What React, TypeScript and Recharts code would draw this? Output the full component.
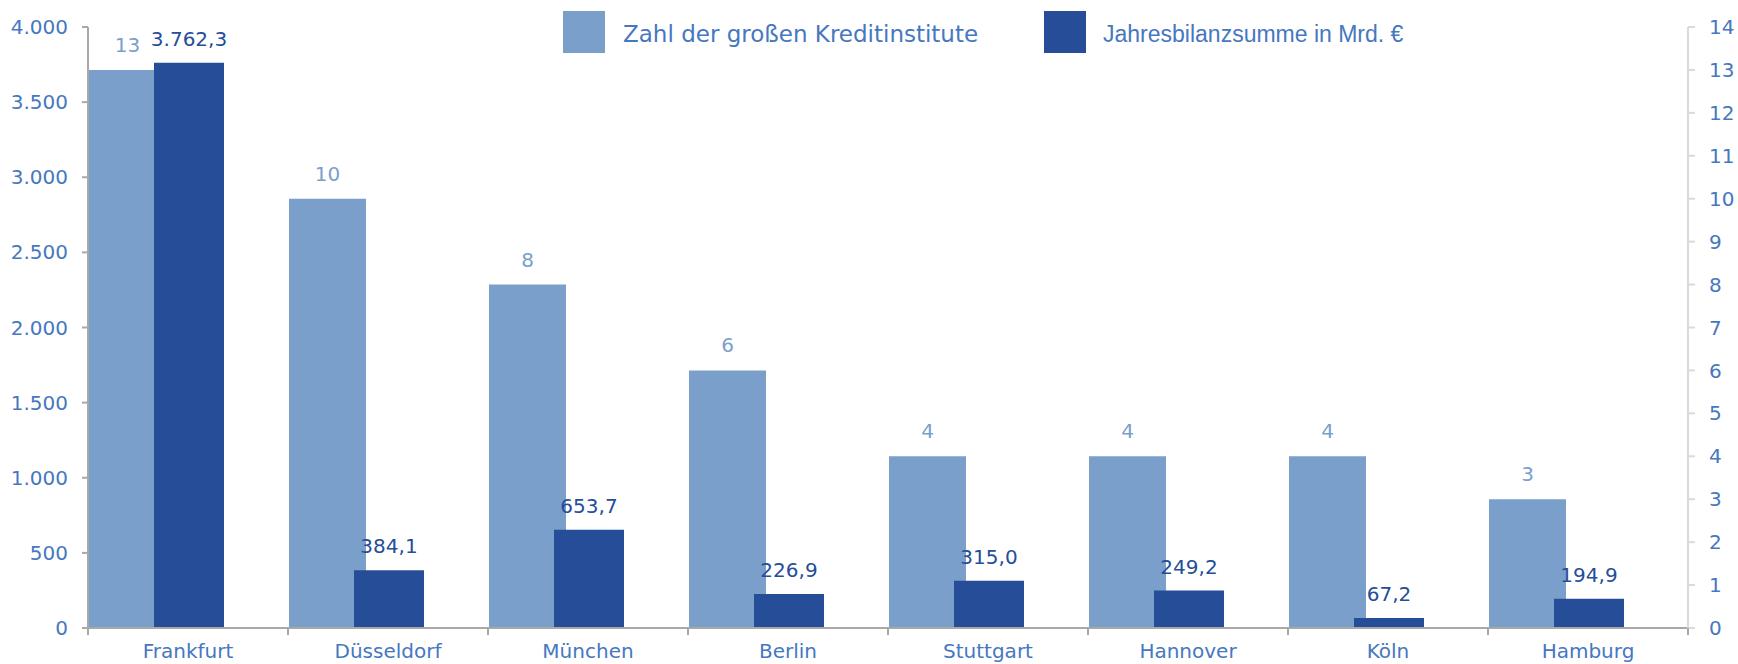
import React from 'react';
import { BarChart, Bar, XAxis, YAxis, LabelList } from 'recharts';

const cities = ['Frankfurt', 'Düsseldorf', 'München', 'Berlin', 'Stuttgart', 'Hannover', 'Köln', 'Hamburg'];
const institutes = [13, 10, 8, 6, 4, 4, 4, 3];
const totals = [3762.3, 384.1, 653.7, 226.9, 315.0, 249.2, 67.2, 194.9];
const leftTicks = [0, 500, 1000, 1500, 2000, 2500, 3000, 3500, 4000];
const rightTicks = [0, 1, 2, 3, 4, 5, 6, 7, 8, 9, 10, 11, 12, 13, 14];

const W = 1738;
const H = 664;
const TOP = 27;
const LEFT_W = 88;
const RIGHT_W = 50;
const XAXIS_H = 36;
const AXIS_Y = H - XAXIS_H;
const BAND = (W - LEFT_W - RIGHT_W) / cities.length;

const LIGHT = '#7a9fcb';
const DARK = '#254d98';
const TEXT = '#4677c0';
const GREY = '#a8a8a8';
const LIGHT_GREY = '#dadada';
const FONT = '"DejaVu Sans", sans-serif';

const data = cities.map((city, i) => ({ city, institutes: institutes[i], total: totals[i] }));

const thousands = (s: string) => s.replace(/\B(?=(\d{3})+(?!\d))/g, '.');
const fmtInt = (v: number) => thousands(Math.round(v).toString());
const fmtDec = (v: number) => {
  const [a, b] = Number(v).toFixed(1).split('.');
  return thousands(a) + ',' + b;
};

const CityTick = (props: any) => {
  const { x, payload, index } = props;
  const last = index === cities.length - 1;
  return (
    <g>
      <line x1={x - BAND / 2} x2={x - BAND / 2} y1={AXIS_Y} y2={AXIS_Y + 7} stroke={GREY} strokeWidth={2} />
      {last && <line x1={x + BAND / 2} x2={x + BAND / 2} y1={AXIS_Y} y2={AXIS_Y + 7} stroke={GREY} strokeWidth={2} />}
      <text x={x} y={AXIS_Y + 16} dy="0.72em" textAnchor="middle" fill={TEXT} fontSize={20} fontFamily={FONT}>
        {payload.value}
      </text>
    </g>
  );
};

export default function App() {
  return (
    <div style={{ position: 'absolute', left: 0, top: 0, width: W, height: H, background: '#fff' }}>
      <BarChart width={W} height={H} data={data} margin={{ top: TOP, right: 0, bottom: 0, left: 0 }} barGap={-12}>
        <XAxis
          xAxisId="cats"
          dataKey="city"
          height={XAXIS_H}
          interval={0}
          tickLine={false}
          axisLine={{ stroke: GREY, strokeWidth: 2 }}
          tick={<CityTick />}
        />
        <XAxis xAxisId="bars" dataKey="city" hide height={0} padding={{ left: -32, right: 32 }} />
        <YAxis
          yAxisId="left"
          width={LEFT_W}
          domain={[0, 4000]}
          ticks={leftTicks}
          interval={0}
          tickFormatter={fmtInt}
          tickSize={6}
          tickMargin={14}
          axisLine={{ stroke: GREY, strokeWidth: 2 }}
          tickLine={{ stroke: GREY, strokeWidth: 2 }}
          tick={{ fill: TEXT, fontSize: 20, fontFamily: FONT }}
        />
        <YAxis
          yAxisId="right"
          orientation="right"
          width={RIGHT_W}
          domain={[0, 14]}
          ticks={rightTicks}
          interval={0}
          tickSize={7}
          tickMargin={14}
          axisLine={{ stroke: LIGHT_GREY, strokeWidth: 2 }}
          tickLine={{ stroke: LIGHT_GREY, strokeWidth: 2 }}
          tick={{ fill: TEXT, fontSize: 20, fontFamily: FONT, textAnchor: 'start' }}
        />
        <Bar xAxisId="bars" yAxisId="right" dataKey="institutes" fill={LIGHT} barSize={77} isAnimationActive={false}>
          <LabelList dataKey="institutes" position="top" offset={18} fill={LIGHT} fontSize={20} fontFamily={FONT} />
        </Bar>
        <Bar xAxisId="bars" yAxisId="left" dataKey="total" fill={DARK} barSize={70} isAnimationActive={false}>
          <LabelList
            dataKey="total"
            position="top"
            offset={17}
            fill={DARK}
            fontSize={20}
            fontFamily={FONT}
            formatter={(v: any) => fmtDec(v)}
          />
        </Bar>
      </BarChart>
      <div style={{ position: 'absolute', left: 563, top: 11, width: 42, height: 42, background: LIGHT }} />
      <div
        style={{ position: 'absolute', left: 623, top: 22.5, lineHeight: '23px', fontSize: 23, fontFamily: FONT, color: TEXT, whiteSpace: 'nowrap' }}
      >
        Zahl der großen Kreditinstitute
      </div>
      <div style={{ position: 'absolute', left: 1044, top: 11, width: 42, height: 42, background: DARK }} />
      <div
        style={{ position: 'absolute', left: 1103, top: 22.5, lineHeight: '23px', fontSize: 23, fontFamily: '"Liberation Sans", Arial, sans-serif', color: TEXT, whiteSpace: 'nowrap' }}
      >
        Jahresbilanzsumme in Mrd. €
      </div>
    </div>
  );
}
